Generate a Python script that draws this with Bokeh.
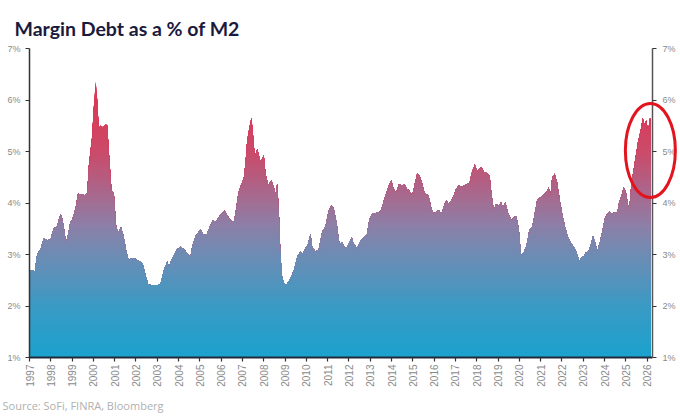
import numpy as np
from bokeh.plotting import figure
from bokeh.models import Range1d, FixedTicker, PrintfTickFormatter, LinearAxis, Title
from bokeh.embed import file_html
from bokeh.resources import INLINE

# ---- data ----
dates = [
    1997.00, 1997.20, 1997.25, 1997.36, 1997.52, 1997.67, 1997.83, 1997.99, 1998.14, 1998.30,
    1998.46, 1998.56, 1998.72, 1998.82, 1998.92, 1999.00, 1999.16, 1999.28, 1999.39, 1999.60,
    1999.71, 1999.79, 1999.94, 2000.02, 2000.11, 2000.18, 2000.25, 2000.33, 2000.44, 2000.57,
    2000.65, 2000.72, 2000.85, 2000.96, 2001.07, 2001.19, 2001.30, 2001.43, 2001.54, 2001.66,
    2001.79, 2001.95, 2002.05, 2002.21, 2002.32, 2002.41, 2002.57, 2002.76, 2002.99, 2003.15,
    2003.31, 2003.46, 2003.54, 2003.70, 2003.93, 2004.09, 2004.25, 2004.40, 2004.56, 2004.64,
    2004.79, 2005.03, 2005.18, 2005.34, 2005.45, 2005.61, 2005.76, 2005.89, 2006.01, 2006.17,
    2006.28, 2006.44, 2006.59, 2006.67, 2006.80, 2006.95, 2007.06, 2007.14, 2007.22, 2007.33,
    2007.42, 2007.49, 2007.58, 2007.69, 2007.77, 2007.85, 2008.00, 2008.08, 2008.21, 2008.36,
    2008.47, 2008.55, 2008.63, 2008.71, 2008.78, 2008.86, 2008.99, 2009.10, 2009.25, 2009.41,
    2009.57, 2009.72, 2009.83, 2009.96, 2010.08, 2010.19, 2010.27, 2010.43, 2010.58, 2010.74,
    2010.90, 2011.05, 2011.18, 2011.29, 2011.40, 2011.55, 2011.68, 2011.80, 2011.91, 2012.07,
    2012.12, 2012.23, 2012.38, 2012.54, 2012.70, 2012.85, 2012.96, 2013.09, 2013.21, 2013.32,
    2013.48, 2013.59, 2013.71, 2013.84, 2013.98, 2014.10, 2014.21, 2014.34, 2014.50, 2014.62,
    2014.73, 2014.84, 2014.97, 2015.09, 2015.20, 2015.31, 2015.44, 2015.56, 2015.67, 2015.75,
    2015.87, 2015.98, 2016.09, 2016.22, 2016.34, 2016.45, 2016.56, 2016.69, 2016.81, 2016.92,
    2017.03, 2017.16, 2017.28, 2017.39, 2017.55, 2017.66, 2017.78, 2017.91, 2018.02, 2018.13,
    2018.22, 2018.33, 2018.49, 2018.60, 2018.69, 2018.80, 2018.91, 2019.03, 2019.14, 2019.22,
    2019.35, 2019.47, 2019.63, 2019.74, 2019.85, 2019.97, 2020.08, 2020.21, 2020.33, 2020.47,
    2020.60, 2020.72, 2020.83, 2020.99, 2021.15, 2021.27, 2021.38, 2021.46, 2021.54, 2021.66,
    2021.77, 2021.90, 2022.01, 2022.13, 2022.29, 2022.45, 2022.60, 2022.71, 2022.82, 2022.92,
    2023.02, 2023.13, 2023.26, 2023.34, 2023.45, 2023.54, 2023.65, 2023.76, 2023.89, 2024.01,
    2024.12, 2024.23, 2024.36, 2024.48, 2024.59, 2024.67, 2024.79, 2024.90, 2025.01, 2025.11,
    2025.17, 2025.26, 2025.37, 2025.48, 2025.58, 2025.69, 2025.79, 2025.89, 2025.95, 2026.05,
    2026.12, 2026.15,
]
margin_pct = [
    2.69, 2.69, 2.65, 3.01, 3.10, 3.32, 3.27, 3.30, 3.50, 3.56,
    3.79, 3.66, 3.22, 3.40, 3.63, 3.66, 3.89, 4.18, 4.17, 4.15,
    4.20, 4.73, 5.28, 5.86, 6.35, 6.00, 5.44, 5.50, 5.47, 5.53,
    5.50, 5.02, 4.24, 4.18, 3.53, 3.43, 3.53, 3.33, 3.07, 2.88,
    2.93, 2.93, 2.88, 2.87, 2.82, 2.65, 2.42, 2.40, 2.40, 2.43,
    2.69, 2.86, 2.76, 2.92, 3.10, 3.15, 3.10, 3.02, 2.95, 3.15,
    3.35, 3.49, 3.38, 3.40, 3.53, 3.66, 3.63, 3.73, 3.79, 3.85,
    3.76, 3.66, 3.63, 3.79, 4.18, 4.37, 4.47, 4.76, 5.21, 5.47,
    5.65, 5.34, 4.89, 5.05, 4.92, 4.80, 4.92, 4.57, 4.34, 4.44,
    4.31, 4.17, 4.37, 3.79, 3.01, 2.56, 2.40, 2.43, 2.53, 2.69,
    2.95, 3.07, 3.01, 3.12, 3.21, 3.40, 3.15, 3.05, 3.10, 3.43,
    3.56, 3.85, 3.95, 3.89, 3.66, 3.21, 3.24, 3.12, 3.15, 3.27,
    3.34, 3.20, 3.12, 3.27, 3.33, 3.40, 3.69, 3.80, 3.79, 3.82,
    3.83, 3.98, 4.14, 4.31, 4.44, 4.27, 4.19, 4.37, 4.34, 4.36,
    4.27, 4.24, 4.14, 4.37, 4.57, 4.53, 4.37, 4.18, 4.17, 4.12,
    3.89, 3.79, 3.83, 3.86, 3.79, 3.93, 4.05, 3.98, 4.05, 4.14,
    4.27, 4.34, 4.31, 4.34, 4.37, 4.40, 4.60, 4.75, 4.62, 4.67,
    4.70, 4.60, 4.58, 4.53, 4.18, 3.86, 3.98, 3.95, 4.01, 3.92,
    4.01, 3.79, 3.66, 3.72, 3.75, 3.50, 2.98, 3.04, 3.17, 3.47,
    3.53, 3.79, 4.05, 4.11, 4.17, 4.21, 4.31, 4.12, 4.50, 4.57,
    4.40, 4.05, 3.79, 3.56, 3.33, 3.21, 3.12, 3.01, 2.86, 2.95,
    2.96, 3.04, 3.07, 3.17, 3.36, 3.27, 3.06, 3.21, 3.43, 3.69,
    3.78, 3.83, 3.79, 3.82, 3.80, 3.98, 4.14, 4.31, 4.19, 3.95,
    3.92, 4.37, 4.66, 4.95, 5.21, 5.40, 5.65, 5.50, 5.60, 5.40,
    5.63, 5.65,
]
year_ticks = list(range(1997, 2027))
pct_ticks = [1, 2, 3, 4, 5, 6, 7]
title_text = "Margin Debt as a % of M2"
source_text = "Source: SoFi, FINRA, Bloomberg"
highlight_x = 2026.15
highlight_y = 5.02

# ---- figure ----
p = figure(width=680, height=419, output_backend="svg", toolbar_location=None,
           x_range=Range1d(1997, 2026.25), y_range=Range1d(1, 7),
           min_border_left=29, min_border_right=28, min_border_top=48, min_border_bottom=62,
           background_fill_color="white", border_fill_color="white")
p.outline_line_color = None
p.grid.visible = False

# gradient fill built from stacked bands (colour depends on height)
stops_v = [1.0, 2.0, 3.0, 3.6, 4.2, 5.0, 5.8, 6.5]
stops_c = [(27, 162, 206), (58, 154, 196), (110, 140, 180), (142, 126, 166),
           (170, 103, 140), (203, 74, 106), (217, 60, 90), (222, 54, 84)]
xs = np.array(dates)
ys = np.array(margin_pct)
levels = np.arange(6.5, 1.0, -0.05)
for top in levels:
    c = [int(round(np.interp(top - 0.025, stops_v, [s[i] for s in stops_c]))) for i in range(3)]
    col = "#%02x%02x%02x" % tuple(c)
    p.varea(x=xs, y1=np.full(len(xs), 1.0), y2=np.minimum(ys, top), fill_color=col)

# highlight ellipse
e = p.ellipse(x=[highlight_x], y=[highlight_y], width=50, height=94,
              width_units="screen", height_units="screen",
              fill_color=None, line_color="#e3141e", line_width=3)
e.level = "overlay"

axis_col = "#333333"
lab_col = "#8a8a8a"

def style_axis(ax):
    ax.axis_line_color = axis_col
    ax.axis_line_width = 1.5
    ax.major_tick_line_color = axis_col
    ax.major_tick_line_width = 1.2
    ax.major_tick_out = 4
    ax.major_tick_in = 0
    ax.minor_tick_line_color = None
    ax.major_label_text_color = lab_col
    ax.major_label_text_font = "Liberation Sans"
    ax.major_label_text_font_size = "9px"

p.yaxis.ticker = FixedTicker(ticks=pct_ticks)
p.yaxis.formatter = PrintfTickFormatter(format="%d%%")
p.yaxis.major_label_standoff = 5
style_axis(p.yaxis[0])

ra = LinearAxis(ticker=FixedTicker(ticks=pct_ticks), formatter=PrintfTickFormatter(format="%d%%"))
style_axis(ra)
ra.major_label_standoff = 6
ra.axis_line_color = "#555555"
p.add_layout(ra, "right")

p.xaxis.ticker = FixedTicker(ticks=year_ticks)
p.xaxis.formatter = PrintfTickFormatter(format="%d")
p.xaxis.major_label_orientation = np.pi / 2
p.xaxis.major_label_standoff = 3
style_axis(p.xaxis[0])
p.xaxis.axis_line_color = "#1e2a3a"
p.xaxis.axis_line_width = 2
p.xaxis.major_label_text_font_size = "10px"

p.add_layout(Title(text=source_text, align="left", offset=-27, text_font_size="11px",
                   text_font="Open Sans", text_font_style="normal", text_color="#b0b0b0",
                   standoff=12), "below")
p.add_layout(Title(text=title_text, align="left", offset=-15, text_font_size="19.5px",
                   text_font="Lato", text_font_style="bold", text_color="#1b1a3d",
                   standoff=17), "above")

open("out.html", "w").write(file_html(p, INLINE))
